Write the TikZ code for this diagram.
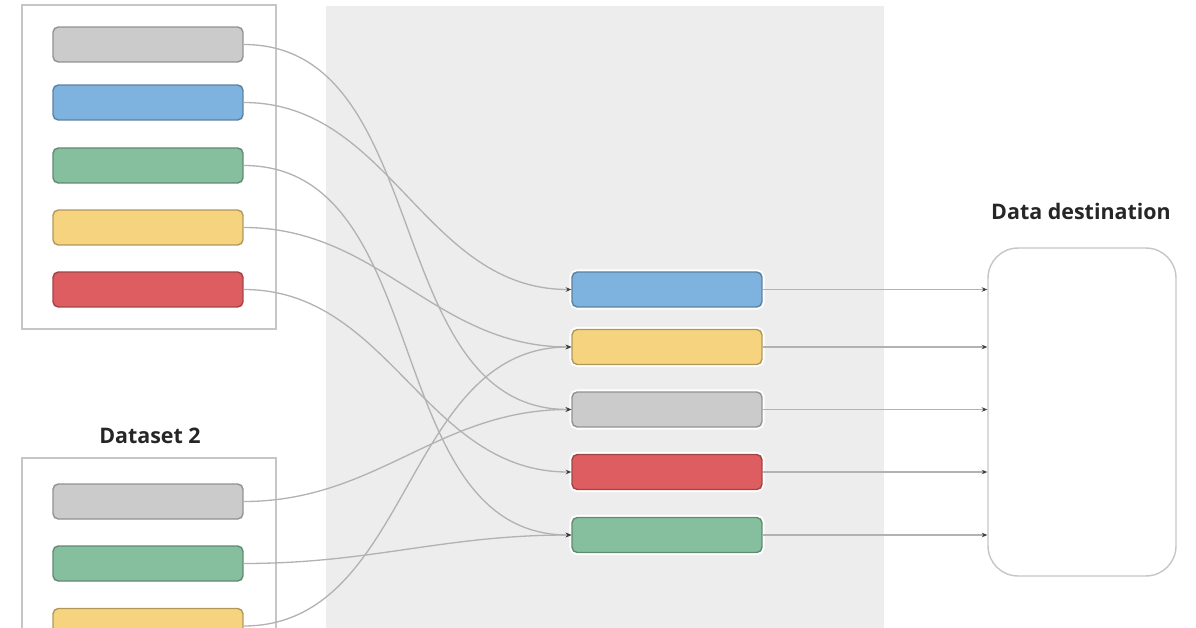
\documentclass[tikz,border=0pt]{standalone}
\usepackage{fontspec}
\setmainfont{Open Sans}
\usetikzlibrary{arrows.meta}

\definecolor{barGray}{HTML}{CBCBCB}
\definecolor{barBlue}{HTML}{7DB3DE}
\definecolor{barGreen}{HTML}{86BF9D}
\definecolor{barYellow}{HTML}{F5D37F}
\definecolor{barRed}{HTML}{DE5D60}
\definecolor{panelGray}{HTML}{EDEDED}
\definecolor{frameGray}{HTML}{C6C6C6}
\definecolor{linkGray}{HTML}{B2B2B2}

\tikzset{
  bar/.style={draw=#1!72!black, fill=#1, line width=0.8pt, rounded corners=3pt,
    minimum width=3.8cm, minimum height=0.7cm, inner sep=0pt},
  midbar/.style={bar=#1, preaction={draw=white, line width=3pt}},
  link/.style={draw=linkGray, line width=0.75pt,
    -{Stealth[length=3.2pt, width=2.6pt, color=black!75]}},
  title/.style={font=\bfseries\fontsize{12.2}{14}\selectfont, text=black!85},
}

\begin{document}
\begin{tikzpicture}[x=0.02cm, y=-0.02cm]
    \useasboundingbox (0,0) rectangle (1196,628);
    \clip (0,0) rectangle (1196,628);

    \fill [panelGray] (326,6) rectangle (884,640);
    \draw [frameGray, line width=0.8pt] (22,5) rectangle (276,329);
    \draw [frameGray, line width=0.8pt] (22,458) rectangle (276,660);

    \foreach \n/\c/\y in {gray/barGray/44.5, blue/barBlue/102.5, green/barGreen/165.5,
                          yellow/barYellow/227.5, red/barRed/289.5} {
      \node [bar=\c] (a-\n) at (148,\y) {};
    }
    \foreach \n/\c/\y in {gray/barGray/501.5, green/barGreen/563.5, yellow/barYellow/626} {
      \node [bar=\c] (b-\n) at (148,\y) {};
    }
    \foreach \n/\c/\y in {blue/barBlue/289.5, yellow/barYellow/347, gray/barGray/409.5,
                          red/barRed/472, green/barGreen/535} {
      \node [midbar=\c] (m-\n) at (667,\y) {};
    }

    \node [draw=frameGray, line width=0.8pt, rounded corners=0.6cm,
           minimum width=3.76cm, minimum height=6.56cm] (dest) at (1082,412) {};
    \node [title] (dest-label) at (1081,211) {Data destination};
    \node [title] (set2-label) at (150,436) {Dataset 2};

    \foreach \n in {gray, blue, green, yellow, red} {
      \draw [link] (a-\n.east) to [out=0, in=180] (m-\n.west);
    }
    \foreach \n in {gray, green, yellow} {
      \draw [link] (b-\n.east) to [out=0, in=180] (m-\n.west);
    }
    \foreach \n in {blue, yellow, gray, red, green} {
      \draw [link] (m-\n.east) -- (m-\n.east -| dest.west);
    }
  \end{tikzpicture}
\end{document}
